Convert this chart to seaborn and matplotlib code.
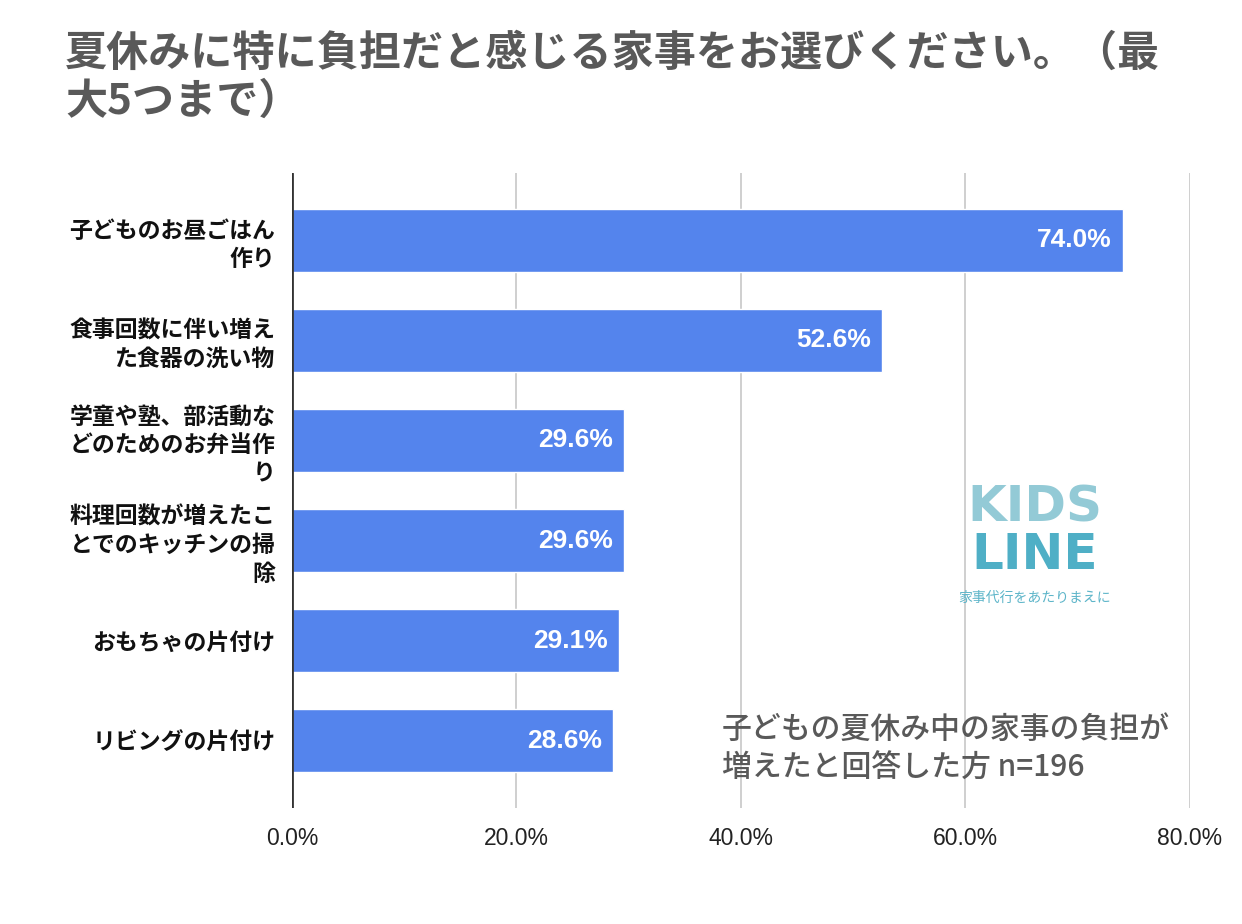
import matplotlib
matplotlib.use("Agg")
import matplotlib.pyplot as plt
import seaborn as sns
import pandas as pd

categories = [
    "子どものお昼ごはん\n作り",
    "食事回数に伴い増え\nた食器の洗い物",
    "学童や塾、部活動な\nどのためのお弁当作\nり",
    "料理回数が増えたこ\nとでのキッチンの掃\n除",
    "おもちゃの片付け",
    "リビングの片付け",
]
values = [74.0, 52.6, 29.6, 29.6, 29.1, 28.6]
x_ticks = [0, 20, 40, 60, 80]

title = "夏休みに特に負担だと感じる家事をお選びください。（最\n大5つまで）"
note = "子どもの夏休み中の家事の負担が\n増えたと回答した方 n=196"

df = pd.DataFrame({"item": categories, "pct": values})

sns.set_style("white")
plt.rcParams["font.family"] = ["Noto Sans CJK JP", "DejaVu Sans"]

fig = plt.figure(figsize=(12.42, 9.24), dpi=100)
ax = fig.add_axes([0.2351, 0.1255, 0.7230, 0.6873])

sns.barplot(data=df, x="pct", y="item", orient="h", color="#5484ED",
            saturation=1, width=0.63, ax=ax, zorder=3)

ax.set_xlim(0, 80)
ax.set_ylim(5.67, -0.67)
ax.set_xticks(x_ticks)
ax.set_xticklabels([f"{t:.1f}%" for t in x_ticks], fontsize=16.5, color="#222222",
                   family=["Liberation Sans", "DejaVu Sans"])
ax.tick_params(axis="x", length=0, pad=14)
ax.tick_params(axis="y", length=0, pad=12)
for lbl in ax.get_yticklabels():
    lbl.set_fontsize(16.5)
    lbl.set_fontweight("bold")
    lbl.set_color("#111111")
    lbl.set_linespacing(1.3)
    lbl.set_multialignment("right")
ax.set_xlabel("")
ax.set_ylabel("")

for t in x_ticks[1:]:
    ax.axvline(t, color="#cccccc", lw=1.3, zorder=1)
ax.axvline(0, color="#333333", lw=2, zorder=4)
for s in ax.spines.values():
    s.set_visible(False)

for i, v in enumerate(values):
    ax.text(v - 1.0, i, f"{v:.1f}%", ha="right", va="center", color="white",
            fontsize=19, fontweight="bold", family=["Liberation Sans", "DejaVu Sans"], zorder=5)

fig.text(65 / 1242, 1 - 33 / 924, title, ha="left", va="top", fontsize=30.3,
         fontweight="bold", color="#595959", linespacing=1.17)

fig.text(722 / 1242, 1 - 749 / 924, note, ha="left", va="center", fontsize=21.5,
         fontweight="medium", color="#595959", linespacing=1.3)

# logo approximation
fig.text(1035 / 1242, 1 - 508 / 924, "KIDS", ha="center", va="center",
         fontsize=36, fontweight="bold", color="#93CAD6",
         family=["Liberation Sans Narrow", "DejaVu Sans"])
fig.text(1035 / 1242, 1 - 555 / 924, "LINE", ha="center", va="center",
         fontsize=36, fontweight="bold", color="#4FAFC6",
         family=["Liberation Sans Narrow", "DejaVu Sans"])
fig.text(1035 / 1242, 1 - 598 / 924, "家事代行をあたりまえに", ha="center", va="center",
         fontsize=10, color="#5DB5C9")

fig.savefig("out.png", dpi=100)
